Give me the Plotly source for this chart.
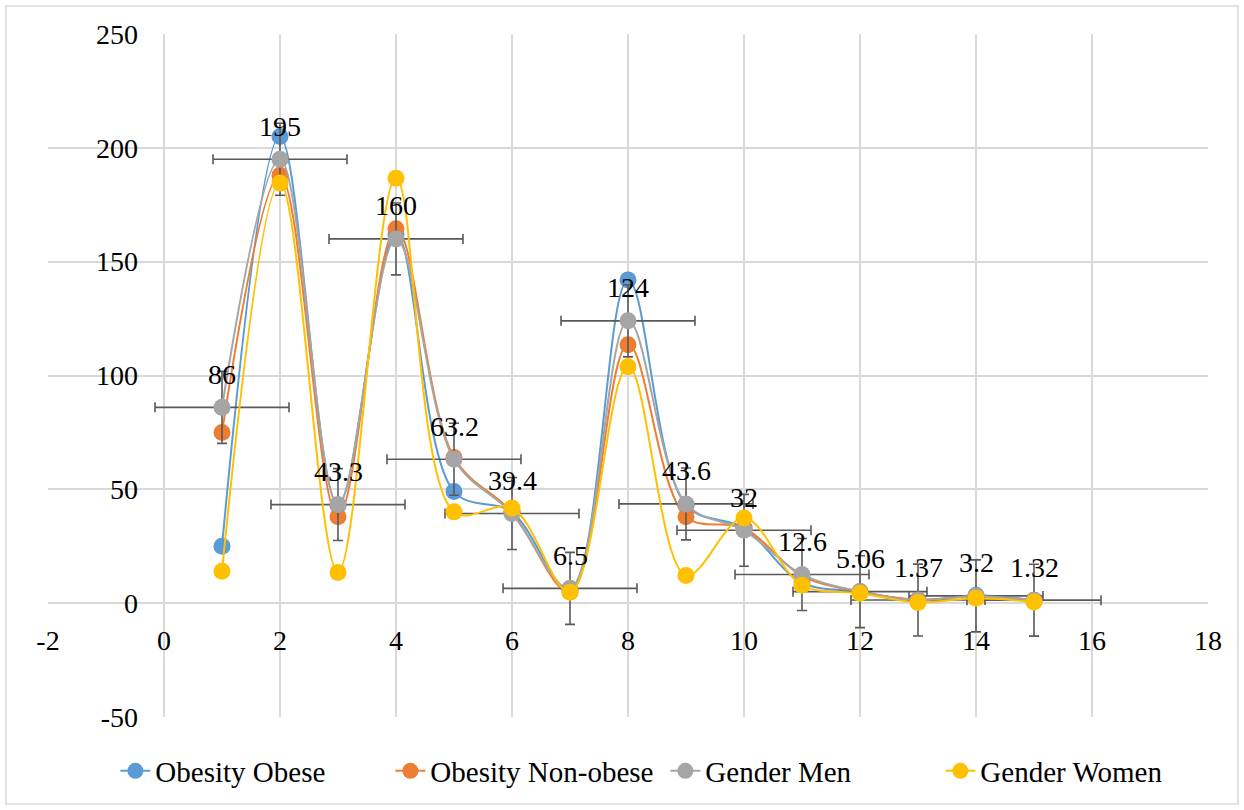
import plotly.graph_objects as go

x_vals = list(range(1, 16))
obese = [25, 205, 43, 162, 49, 40, 6, 142, 43, 33, 9, 5, 1.2, 3.5, 1.2]
non_obese = [75, 188, 38, 164.5, 64, 40, 5, 113.5, 38, 33, 12, 5, 1.5, 3, 1.3]
men = [86, 195, 43.3, 160, 63.2, 39.4, 6.5, 124, 43.6, 32, 12.6, 5.06, 1.37, 3.2, 1.32]
women = [14, 184.5, 13.5, 186.6, 40.1, 41.8, 4.8, 103.8, 12.2, 37.4, 7.9, 4.4, 0.3, 2.2, 0.5]
men_labels = ["86", "195", "43.3", "160", "63.2", "39.4", "6.5", "124", "43.6", "32",
              "12.6", "5.06", "1.37", "3.2", "1.32"]
err_x = 1.155
err_y = 15.8

x_ticks = [-2, 0, 2, 4, 6, 8, 10, 12, 14, 16, 18]
x_tick_text = ["-2", "0", "2", "4", "6", "8", "10", "12", "14", "16", "18"]
y_ticks = [-50, 0, 50, 100, 150, 200, 250]
y_tick_text = ["-50", "0", "50", "100", "150", "200", "250"]

series = [
    ("Obesity Obese", obese, "#5B9BD5"),
    ("Obesity Non-obese", non_obese, "#ED7D31"),
    ("Gender Men", men, "#A5A5A5"),
    ("Gender Women", women, "#FFC000"),
]

FONT = "'Times New Roman', 'Liberation Serif', 'DejaVu Serif', serif"
TXT = dict(family=FONT, size=28, color="#000000")
fig = go.Figure()
for name, vals, color in series:
    kw = {}
    if name == "Gender Men":
        kw["error_x"] = dict(type="constant", value=err_x, color="#595959", thickness=1.6, width=5)
        kw["error_y"] = dict(type="constant", value=err_y, color="#595959", thickness=1.6, width=5)
    fig.add_trace(go.Scatter(
        x=x_vals, y=vals, name=name, mode="lines+markers",
        line=dict(color=color, width=2, shape="spline", smoothing=1.0),
        marker=dict(color=color, size=17, line=dict(color=color, width=0)),
        **kw
    ))

for xv, yv, lab in zip(x_vals, men, men_labels):
    fig.add_annotation(x=xv, y=yv, text=lab, showarrow=False, yshift=33, font=TXT)

plot_l, plot_r, plot_t, plot_b = 48, 1208, 34, 717
W, H = 1244, 810
pw, ph = plot_r - plot_l, plot_b - plot_t

fig.update_layout(
    width=W, height=H,
    margin=dict(l=plot_l, r=W - plot_r, t=plot_t, b=H - plot_b, pad=0),
    paper_bgcolor="white", plot_bgcolor="white",
    font=TXT,
    showlegend=True,
    legend=dict(orientation="h", x=(120 - plot_l) / pw - 0.004, xanchor="left",
                y=(plot_b - 771) / ph, yanchor="middle",
                font=dict(family=FONT, size=29, color="#000000"),
                entrywidth=230, entrywidthmode="pixels"),
    xaxis=dict(range=[-2, 18], tickmode="array", tickvals=x_ticks, ticktext=x_tick_text,
               showgrid=True, gridcolor="#D9D9D9", gridwidth=1.5, zeroline=False,
               showline=False, anchor="free", position=50 / 300, ticks="",
               ticklabelstandoff=18, tickfont=TXT),
    yaxis=dict(range=[-50, 250], tickmode="array", tickvals=y_ticks, ticktext=y_tick_text,
               showgrid=True, gridcolor="#D9D9D9", gridwidth=1.5, zeroline=False,
               showline=False, anchor="free", position=2 / 20, ticks="",
               ticklabelstandoff=26, tickfont=TXT),
)

fig.add_shape(type="rect", xref="paper", yref="paper",
              x0=(6 - plot_l) / pw, x1=(1238 - plot_l) / pw,
              y0=(plot_b - 804) / ph, y1=(plot_b - 6) / ph,
              line=dict(color="#D9D9D9", width=1.5), fillcolor="rgba(0,0,0,0)", layer="below")

fig.write_html("out.html", config={"displayModeBar": False},
               post_script="document.body.style.margin='0px';")
